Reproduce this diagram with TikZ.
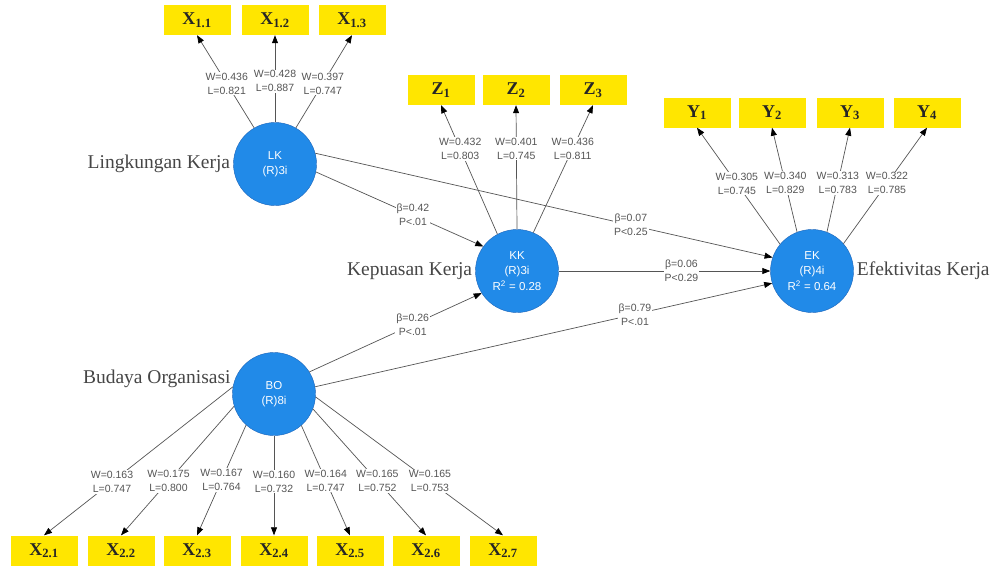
\documentclass[tikz,border=0pt]{standalone}
\usepackage{fontspec}
\setmainfont{Liberation Serif}
\setsansfont{Liberation Sans}
\usetikzlibrary{arrows.meta}
\definecolor{plsblue}{RGB}{33,138,232}
\definecolor{plsedge}{RGB}{28,100,185}
\definecolor{plsyellow}{RGB}{255,230,0}
\definecolor{plsgray}{RGB}{85,85,85}
\definecolor{plstext}{RGB}{70,70,70}

\begin{document}
\begin{tikzpicture}[
        x=1pt, y=-1pt,
        construct/.style={circle, draw=plsedge, fill=plsblue, minimum size=83pt, inner sep=0pt, text=white, align=center, font=\sffamily\fontsize{11.5}{15.5}\selectfont},
        indicator/.style={fill=plsyellow, minimum width=67pt, minimum height=30pt, inner sep=0pt, text=black!85, font=\bfseries\fontsize{18}{20}\selectfont},
        lvtitle/.style={text=plstext, inner sep=3pt, font=\fontsize{19.5}{22}\selectfont},
        weight/.style={fill=white, inner sep=1pt, align=center, text=plsgray, font=\sffamily\fontsize{10.5}{14}\selectfont},
        relation/.style={draw=plsgray, line width=0.7pt, -{Triangle[length=8pt, width=6pt, color=black]}}
    ]
    \path[use as bounding box, fill=white] (0,0) rectangle (995,566);

    % latent variables
    \node[construct] (LK) at (275,164) {LK\\(R)3i};
    \node[construct] (KK) at (517,271) {KK\\(R)3i\\R\textsuperscript{2} = 0.28};
    \node[construct] (EK) at (812,271) {EK\\(R)4i\\R\textsuperscript{2} = 0.64};
    \node[construct] (BO) at (274,394) {BO\\(R)8i};

    \node[lvtitle, anchor=east] (LKname) at (LK.west) {Lingkungan Kerja};
    \node[lvtitle, anchor=east] (KKname) at (KK.west) {Kepuasan Kerja};
    \node[lvtitle, anchor=west] (EKname) at (EK.east) {Efektivitas Kerja};
    \node[lvtitle, anchor=base east] (BOname) at (BO.165) {Budaya Organisasi};

    % indicators
    \node[indicator] (X11) at (197,20) {X\textsubscript{1.1}};
    \node[indicator] (X12) at (275,20) {X\textsubscript{1.2}};
    \node[indicator] (X13) at (352,20) {X\textsubscript{1.3}};

    \node[indicator] (Z1) at (441,90) {Z\textsubscript{1}};
    \node[indicator] (Z2) at (516,90) {Z\textsubscript{2}};
    \node[indicator] (Z3) at (593,90) {Z\textsubscript{3}};

    \node[indicator] (Y1) at (697,112.5) {Y\textsubscript{1}};
    \node[indicator] (Y2) at (772,112.5) {Y\textsubscript{2}};
    \node[indicator] (Y3) at (850,112.5) {Y\textsubscript{3}};
    \node[indicator] (Y4) at (927,112.5) {Y\textsubscript{4}};

    \node[indicator] (X21) at (44,550.5) {X\textsubscript{2.1}};
    \node[indicator] (X22) at (121,550.5) {X\textsubscript{2.2}};
    \node[indicator] (X23) at (197,550.5) {X\textsubscript{2.3}};
    \node[indicator] (X24) at (274,550.5) {X\textsubscript{2.4}};
    \node[indicator] (X25) at (350,550.5) {X\textsubscript{2.5}};
    \node[indicator] (X26) at (426,550.5) {X\textsubscript{2.6}};
    \node[indicator] (X27) at (503,550.5) {X\textsubscript{2.7}};

    % outer model
    \draw[relation] (LK.120) -- node[weight, pos=0.48] {W=0.436\\L=0.821} (X11.south);
    \draw[relation] (LK.90) -- node[weight, pos=0.47] {W=0.428\\L=0.887} (X12.south);
    \draw[relation] (LK.60) -- node[weight, pos=0.48] {W=0.397\\L=0.747} (X13.south);

    \draw[relation] (KK.118) -- node[weight, pos=0.66] {W=0.432\\L=0.803} (Z1.south);
    \draw[relation] (KK.90) -- node[weight, pos=0.65] {W=0.401\\L=0.745} (Z2.south);
    \draw[relation] (KK.67) -- node[weight, pos=0.66] {W=0.436\\L=0.811} (Z3.south);

    \draw[relation] (EK.140) -- node[weight, pos=0.52] {W=0.305\\L=0.745} (Y1.south);
    \draw[relation] (EK.111) -- node[weight, pos=0.47] {W=0.340\\L=0.829} (Y2.south);
    \draw[relation] (EK.69) -- node[weight, pos=0.47] {W=0.313\\L=0.783} (Y3.south);
    \draw[relation] (EK.41) -- node[weight, pos=0.52] {W=0.322\\L=0.785} (Y4.south);

    \draw[relation] (BO.170) -- node[weight, pos=0.64] {W=0.163\\L=0.747} (X21.north);
    \draw[relation] (BO.197) -- node[weight, pos=0.58] {W=0.175\\L=0.800} (X22.north);
    \draw[relation] (BO.228) -- node[weight, pos=0.50] {W=0.167\\L=0.764} (X23.north);
    \draw[relation] (BO.270) -- node[weight, pos=0.46] {W=0.160\\L=0.732} (X24.north);
    \draw[relation] (BO.311) -- node[weight, pos=0.50] {W=0.164\\L=0.747} (X25.north);
    \draw[relation] (BO.339) -- node[weight, pos=0.57] {W=0.165\\L=0.752} (X26.north);
    \draw[relation] (BO.356) -- node[weight, pos=0.61] {W=0.165\\L=0.753} (X27.north);

    % inner model
    \draw[relation] (LK.-11) -- node[weight, pos=0.58] {β=0.42\\P<.01} (KK.144);
    \draw[relation] (LK.15) -- node[weight, pos=0.69] {β=0.07\\P<0.25} (EK.161);
    \draw[relation] (KK.east) -- node[weight, pos=0.58] {β=0.06\\P<0.29} (EK.west);
    \draw[relation] (BO.32) -- node[weight, pos=0.60] {β=0.26\\P<.01} (KK.212);
    \draw[relation] (BO.10) -- node[weight, pos=0.70] {β=0.79\\P<.01} (EK.197);
\end{tikzpicture}
\end{document}
